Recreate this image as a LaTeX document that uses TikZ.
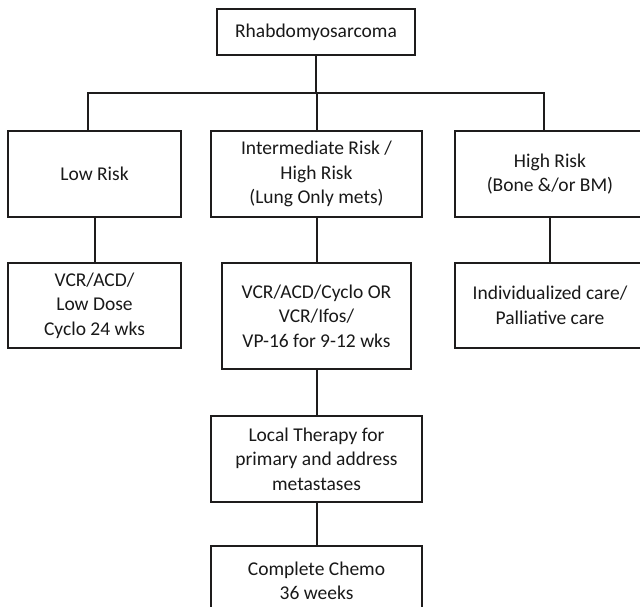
\documentclass[tikz,border=0pt]{standalone}
\usepackage{fontspec}
\setmainfont{Carlito}
\tikzset{
  chartbox/.style={draw=drawColor,line width=2pt,align=center,inner sep=0pt,
    font=\fontsize{19.5}{24.5}\selectfont,text=textColor},
  chartline/.style={draw=drawColor,line width=2pt}
}
\begin{document}
\begin{tikzpicture}[x=1pt,y=1pt]
\definecolor{drawColor}{RGB}{30,28,28}
\definecolor{textColor}{RGB}{25,25,25}
\definecolor{fillColor}{RGB}{255,255,255}
\path[use as bounding box,fill=fillColor] (0,0) rectangle (640,606);
\begin{scope}
\path[clip] (0,0) rectangle (640,606);

\node[chartbox,minimum width=198,minimum height=46] (root) at (316,574) {Rhabdomyosarcoma};

\node[chartbox,minimum width=173,minimum height=86] (low) at ( 94.5,432) {Low Risk};

\node[chartbox,minimum width=211,minimum height=86] (inter) at (316.5,432) {Intermediate Risk /\\High Risk\\(Lung Only mets)};

\node[chartbox,minimum width=190,minimum height=86] (high) at (550,432) {High Risk\\(Bone \&/or BM)};

\node[chartbox,minimum width=173,minimum height=85] (lowrx) at ( 94.5,300.5) {VCR/ACD/\\Low Dose\\Cyclo 24 wks};

\node[chartbox,minimum width=189,minimum height=106] (interrx) at (316.5,290) {VCR/ACD/Cyclo OR\\VCR/Ifos/\\VP-16 for 9-12 wks};

\node[chartbox,minimum width=190,minimum height=85] (highrx) at (550,300.5) {Individualized care/\\Palliative care};

\node[chartbox,minimum width=211,minimum height=86] (local) at (316.5,147) {Local Therapy for\\primary and address\\metastases};

\node[chartbox,minimum width=211,minimum height=70] (chemo) at (316.5,25) {Complete Chemo\\36 weeks};

\coordinate (barL) at ( 88,513);
\coordinate (barR) at (544,513);

\path[chartline] (root.south) -- (root.south |- barL);
\path[chartline] (low.north -| barL) -- (barL) -- (barR) -- (high.north -| barR);
\path[chartline] (inter.north) -- (inter.north |- barL);

\path[chartline] (low.south) -- (lowrx.north);
\path[chartline] (inter.south) -- (interrx.north);
\path[chartline] (high.south) -- (highrx.north);
\path[chartline] (interrx.south) -- (local.north);
\path[chartline] (local.south) -- (chemo.north);
\end{scope}
\end{tikzpicture}
\end{document}
